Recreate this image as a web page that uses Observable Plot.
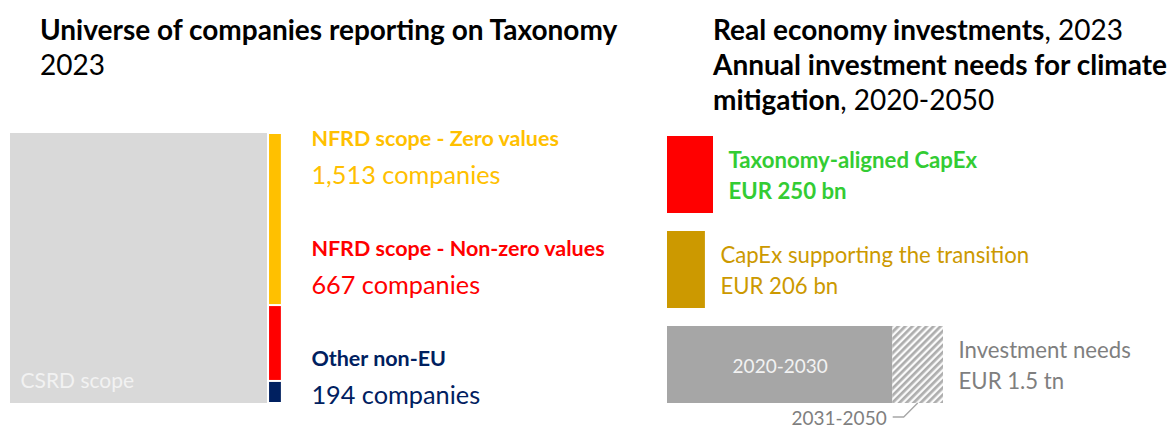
<!DOCTYPE html>
<html>
<head>
<meta charset="utf-8">
<script src="https://cdn.jsdelivr.net/npm/d3@7"></script>
<script src="https://cdn.jsdelivr.net/npm/@observablehq/plot@0.6"></script>
<style>
  html, body { margin: 0; padding: 0; background: #fff; }
  #root { position: relative; width: 1167px; height: 428px; overflow: hidden; font-family: Lato, "Noto Sans", sans-serif; }
  .title { position: absolute; font-size: 28px; line-height: 35px; color: #000; white-space: nowrap; }
  .title b { font-weight: 700; }
  .panel { position: absolute; top: 120px; }
  .panel svg { font-family: Lato, "Noto Sans", sans-serif; overflow: visible; }
</style>
</head>
<body>
<div id="root">
  <div class="title" style="left:40px; top:12px;"><b>Universe of companies reporting on Taxonomy</b><br>2023</div>
  <div class="title" style="left:713px; top:12px;"><b>Real economy investments</b>, 2023<br><b>Annual investment needs for climate</b><br><b>mitigation</b>, 2020-2050</div>
  <div class="panel" id="left" style="left:0px;"></div>
  <div class="panel" id="right" style="left:650px;"></div>
</div>
<script>
// ---------- data ----------
const leftCategories = ["NFRD scope - Zero values", "NFRD scope - Non-zero values", "Other non-EU"];
const leftCounts = [1513, 667, 194];
const csrdLabel = "CSRD scope";

const rightCategories = ["Taxonomy-aligned CapEx", "CapEx supporting the transition", "Investment needs"];
const rightValues = [250, 206, 1500];            // EUR bn
const rightValueLabels = ["EUR 250 bn", "EUR 206 bn", "EUR 1.5 tn"];
const needsPeriods = ["2020-2030", "2031-2050"];
const needsValues = [1225, 275];                 // EUR bn (split of the 1.5 tn bar)

// ---------- styles ----------
const leftColors = ["#FFC000", "#FF0000", "#002060"];
const rightLabelColors = ["#33CC33", "#CC9900", "#7F7F7F"];
const rightLabelWeights = ["bold", "normal", "normal"];
const rightBarColors = ["#FF0000", "#CC9900"];

// ---------- left panel ----------
const total = d3.sum(leftCounts);
const leftData = leftCategories.map((c, i) => ({category: c, count: leftCounts[i], color: leftColors[i]}));
const BAR_X1 = 1.008, BAR_X2 = 1.054;   // stacked bar position relative to the square (square = 0..1)

const leftPlot = Plot.plot({
  width: 650, height: 308,
  marginLeft: 10, marginRight: 0, marginTop: 13, marginBottom: 25,
  x: {domain: [0, 1], range: [10, 267], axis: null},
  y: {domain: [0, total], axis: null},
  color: {type: "identity"},
  marks: [
    Plot.rect([csrdLabel], {x1: 0, x2: 1, y1: 0, y2: total, fill: "#D9D9D9"}),
    Plot.text([csrdLabel], {x: 0, y: 0, dx: 10, dy: -22, text: d => d, textAnchor: "start",
      fill: "#F2F2F2", fontSize: 21}),
    Plot.rectY(leftData, Plot.stackY({x1: BAR_X1, x2: BAR_X2, y: "count", fill: "color",
      reverse: true, insetTop: 1, insetBottom: 1})),
    ...leftData.map((d, i) => Plot.text([d], {
      x: BAR_X2, frameAnchor: "top", textAnchor: "start", lineAnchor: "middle",
      dx: 30, dy: 6 + i * 110, text: "category", fill: "color", fontWeight: "bold", fontSize: 21.5
    })),
    ...leftData.map((d, i) => Plot.text([d], {
      x: BAR_X2, frameAnchor: "top", textAnchor: "start", lineAnchor: "middle",
      dx: 30, dy: 42 + i * 110, text: d => d3.format(",")(d.count) + " companies", fill: "color", fontSize: 25.3
    }))
  ]
});
document.getElementById("left").appendChild(leftPlot);

// ---------- right panel ----------
const rightData = rightCategories.map((c, i) => ({name: c, value: rightValues[i], label: rightValueLabels[i]}));
const capexData = rightData.slice(0, 2).map((d, i) => ({...d, color: rightBarColors[i]}));
const needsFills = ["#A6A6A6", "url(#hatch)"];
const needsCum = d3.cumsum(needsValues);
const needsData = needsPeriods.map((p, i) => ({
  period: p, name: rightCategories[2], x1: needsCum[i] - needsValues[i], x2: needsCum[i], fill: needsFills[i]
}));

const hatchDefs = () => {
  const defs = d3.create("svg:defs");
  const pat = defs.append("pattern").attr("id", "hatch").attr("patternUnits", "userSpaceOnUse")
    .attr("width", 5).attr("height", 5).attr("patternTransform", "rotate(45)");
  pat.append("rect").attr("width", 5).attr("height", 5).attr("fill", "#FAFAFA");
  pat.append("rect").attr("width", 2.7).attr("height", 5).attr("fill", "#ADADAD");
  return defs.node();
};

const leader = (index, scales, values, dims) => {
  const xm = scales.x((needsData[1].x1 + needsData[1].x2) / 2);
  const yb = dims.height - dims.marginBottom;
  const g = d3.create("svg:g");
  g.append("path")
    .attr("d", `M${xm},${yb} L${xm - 14},${yb + 14} L${xm - 25},${yb + 14}`)
    .attr("fill", "none").attr("stroke", "#A6A6A6").attr("stroke-width", 1.3);
  g.append("text").attr("x", xm - 31).attr("y", yb + 15).attr("dy", "0.35em")
    .attr("text-anchor", "end").attr("fill", "#7F7F7F").attr("font-size", 19)
    .text(needsData[1].period);
  return g.node();
};

const rightPlot = Plot.plot({
  width: 517, height: 308,
  marginLeft: 17, marginRight: 224, marginTop: 15, marginBottom: 25,
  x: {domain: [0, d3.max(rightValues)], axis: null},
  y: {type: "band", domain: rightCategories, paddingInner: 0.19, paddingOuter: 0, axis: null},
  color: {type: "identity"},
  marks: [
    hatchDefs,
    Plot.barX(capexData, {x: "value", y: "name", fill: "color"}),
    Plot.barX(needsData, {x1: "x1", x2: "x2", y: "name", fill: "fill"}),
    Plot.text([needsData[0]], {x: d => (d.x1 + d.x2) / 2, y: "name", dy: 2, text: "period",
      fill: "#F2F2F2", fontSize: 19}),
    ...rightData.map((d, i) => Plot.text([d], {
      x: "value", y: "name", dx: 15, dy: -1, textAnchor: "start", lineAnchor: "middle", lineHeight: 1.4,
      text: d => d.name + "\n" + d.label, fill: rightLabelColors[i], fontWeight: rightLabelWeights[i], fontSize: 22.2
    })),
    leader
  ]
});
document.getElementById("right").appendChild(rightPlot);
</script>
</body>
</html>
